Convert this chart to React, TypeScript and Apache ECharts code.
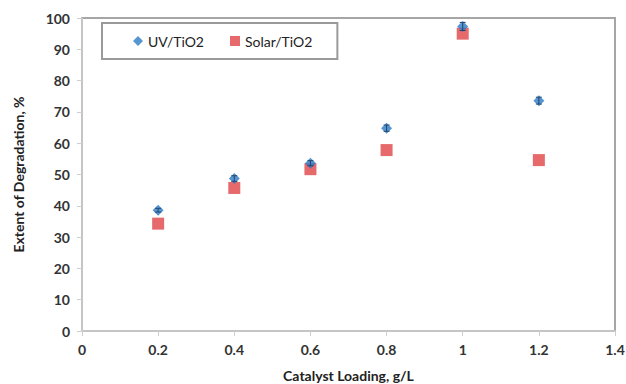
import React, { useEffect, useRef } from "react";
import * as echarts from "echarts";

const loadings = [0.2, 0.4, 0.6, 0.8, 1.0, 1.2];
const uvValues = [38.6, 48.7, 53.6, 64.8, 97.3, 73.6];
const uvErrors = [0.6, 0.9, 0.8, 1.0, 1.3, 1.1];
const solarValues = [34.3, 45.7, 51.7, 57.8, 95.0, 54.6];
const seriesNames = ["UV/TiO2", "Solar/TiO2"];

const FONT = "Lato, 'Open Sans', sans-serif";

export default function App() {
  const ref = useRef<HTMLDivElement>(null);
  useEffect(() => {
    if (!ref.current) return;
    const chart = echarts.init(ref.current, undefined, { renderer: "svg" });
    const uvData = loadings.map((x, i) => [x, uvValues[i]]);
    const solarData = loadings.map((x, i) => [x, solarValues[i]]);
    const errData = loadings.map((x, i) => [x, uvValues[i], uvErrors[i]]);
    chart.setOption({
      animation: false,
      backgroundColor: "#ffffff",
      grid: {
        left: 82,
        top: 18,
        width: 533,
        height: 313,
        show: true,
        borderColor: "#a6a6a6",
        borderWidth: 2,
        outerBoundsMode: "none",
        containLabel: false,
      },
      legend: {
        left: 102,
        top: 23,
        orient: "horizontal",
        padding: [11, 25, 11, 31],
        itemGap: 26,
        itemWidth: 10,
        itemHeight: 10,
        borderColor: "#9a9a9a",
        borderWidth: 2,
        data: seriesNames,
        textStyle: { fontFamily: FONT, fontSize: 14, color: "#222" },
      },
      xAxis: {
        type: "value",
        min: 0,
        max: 1.4,
        interval: 0.2,
        splitLine: { show: false },
        axisLine: { show: true, lineStyle: { color: "#cfcfcf", width: 1.5 } },
        axisTick: { show: true, length: 5, lineStyle: { color: "#cfcfcf" } },
        axisLabel: {
          fontFamily: FONT,
          fontSize: 14,
          fontWeight: "bold",
          color: "#333",
          margin: 11,
          formatter: (v: number) => String(parseFloat(v.toFixed(1))),
        },
        name: "Catalyst Loading, g/L",
        nameLocation: "middle",
        nameGap: 37,
        nameTextStyle: { fontFamily: FONT, fontSize: 14, fontWeight: "bold", color: "#222" },
      },
      yAxis: {
        type: "value",
        min: 0,
        max: 100,
        interval: 10,
        splitLine: { show: false },
        axisLine: { show: true, lineStyle: { color: "#cfcfcf", width: 1.5 } },
        axisTick: { show: true, length: 5, lineStyle: { color: "#cfcfcf" } },
        axisLabel: { fontFamily: FONT, fontSize: 14, fontWeight: "bold", color: "#333", margin: 12 },
        name: "Extent of Degradation, %",
        nameLocation: "middle",
        nameGap: 57,
        nameTextStyle: { fontFamily: FONT, fontSize: 14, fontWeight: "bold", color: "#222" },
      },
      series: [
        {
          name: seriesNames[0],
          type: "scatter",
          symbol: "diamond",
          symbolSize: [11, 11],
          itemStyle: { color: "#2a7bc4" },
          data: uvData,
          z: 3,
        },
        {
          name: seriesNames[1],
          type: "scatter",
          symbol: "rect",
          symbolSize: 12,
          itemStyle: { color: "#e04446" },
          data: solarData,
          z: 2,
        },
        {
          name: "err",
          type: "custom",
          z: 4,
          silent: true,
          data: errData,
          renderItem: (params: any, api: any) => {
            const x = api.value(0);
            const y = api.value(1);
            const e = api.value(2);
            const lo = api.coord([x, y - e]);
            const hi = api.coord([x, y + e]);
            const w = 3;
            const style = { stroke: "#23456e", lineWidth: 1 };
            return {
              type: "group",
              children: [
                { type: "line", shape: { x1: lo[0], y1: lo[1], x2: hi[0], y2: hi[1] }, style },
                { type: "line", shape: { x1: lo[0] - w, y1: lo[1], x2: lo[0] + w, y2: lo[1] }, style },
                { type: "line", shape: { x1: hi[0] - w, y1: hi[1], x2: hi[0] + w, y2: hi[1] }, style },
              ],
            };
          },
        },
      ],
    });
    return () => chart.dispose();
  }, []);
  return (
    <div
      ref={ref}
      style={{ position: "fixed", left: 0, top: 0, width: 626, height: 384, background: "#fff" }}
    />
  );
}
